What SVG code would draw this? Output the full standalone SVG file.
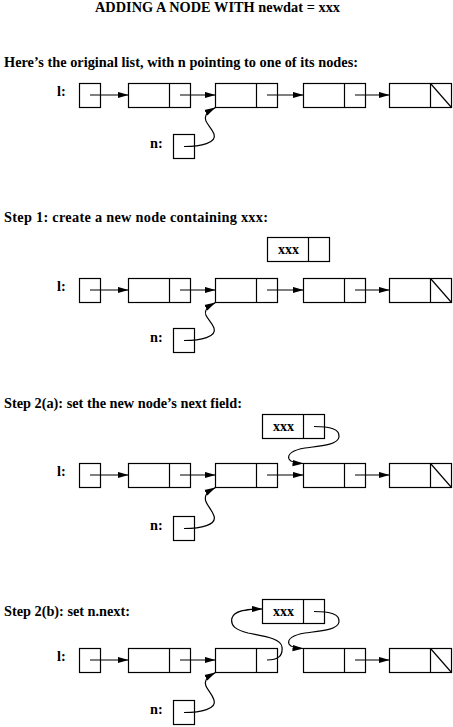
<svg xmlns="http://www.w3.org/2000/svg" width="453" height="727" viewBox="0 0 453 727">
<style>
.bx{fill:none;stroke:#000;stroke-width:1.2}
.ln{fill:none;stroke:#000;stroke-width:1.2}
.ar{fill:none;stroke:#000;stroke-width:1.2;marker-end:url(#ah)}
text{font-family:"Liberation Serif","Times New Roman",serif;font-weight:bold;fill:#000}
.h{font-size:14.3px}
.lb{font-size:14.3px}
.v{font-size:14px;text-anchor:middle}
</style>
<defs>
<marker id="ah" markerWidth="11" markerHeight="7" refX="11" refY="3.5" orient="auto" markerUnits="userSpaceOnUse">
<path d="M0,0.3 L11,3.5 L0,6.7 z" fill="#000"/>
</marker>
</defs>
<rect width="453" height="727" fill="#fff"/>

<text class="h" x="95" y="12" textLength="245" lengthAdjust="spacing">ADDING A NODE WITH newdat = xxx</text>

<!-- Panel 1 -->
<text class="h" x="4" y="67" textLength="354" lengthAdjust="spacing">Here’s the original list, with n pointing to one of its nodes:</text>
<g id="p1-l"><text class="lb" x="57" y="96">l:</text><rect class="bx" x="79.5" y="83.5" width="21" height="24"/></g>
<g id="p1-node1"><rect class="bx" x="128.5" y="83.5" width="62" height="24"/><line class="ln" x1="169.5" y1="83.5" x2="169.5" y2="107.5"/></g>
<g id="p1-node2"><rect class="bx" x="215.5" y="83.5" width="62" height="24"/><line class="ln" x1="256.5" y1="83.5" x2="256.5" y2="107.5"/></g>
<g id="p1-node3"><rect class="bx" x="303.5" y="83.5" width="62" height="24"/><line class="ln" x1="344.5" y1="83.5" x2="344.5" y2="107.5"/></g>
<g id="p1-node4"><rect class="bx" x="389.5" y="83.5" width="62" height="24"/><line class="ln" x1="430.5" y1="83.5" x2="430.5" y2="107.5"/><line class="ln" x1="430.5" y1="83.5" x2="451.5" y2="107.5"/></g>
<g id="p1-n"><text class="lb" x="150" y="148">n:</text><rect class="bx" x="173.5" y="134.5" width="21" height="24"/></g>

<!-- Panel 2 -->
<text class="h" x="4" y="222" textLength="264" lengthAdjust="spacing">Step 1: create a new node containing xxx:</text>
<g id="p2-new"><rect class="bx" x="267.5" y="237.5" width="62" height="24"/><line class="ln" x1="308.5" y1="237.5" x2="308.5" y2="261.5"/><text class="v" x="288.5" y="253.5">xxx</text></g>
<g id="p2-l"><text class="lb" x="57" y="291">l:</text><rect class="bx" x="79.5" y="278.5" width="21" height="24"/></g>
<g id="p2-node1"><rect class="bx" x="128.5" y="278.5" width="62" height="24"/><line class="ln" x1="169.5" y1="278.5" x2="169.5" y2="302.5"/></g>
<g id="p2-node2"><rect class="bx" x="215.5" y="278.5" width="62" height="24"/><line class="ln" x1="256.5" y1="278.5" x2="256.5" y2="302.5"/></g>
<g id="p2-node3"><rect class="bx" x="303.5" y="278.5" width="62" height="24"/><line class="ln" x1="344.5" y1="278.5" x2="344.5" y2="302.5"/></g>
<g id="p2-node4"><rect class="bx" x="389.5" y="278.5" width="62" height="24"/><line class="ln" x1="430.5" y1="278.5" x2="430.5" y2="302.5"/><line class="ln" x1="430.5" y1="278.5" x2="451.5" y2="302.5"/></g>
<g id="p2-n"><text class="lb" x="150" y="342">n:</text><rect class="bx" x="173.5" y="328.5" width="21" height="24"/></g>

<!-- Panel 3 -->
<text class="h" x="4" y="408" textLength="238" lengthAdjust="spacing">Step 2(a): set the new node’s next field:</text>
<g id="p3-new"><rect class="bx" x="262.5" y="414.5" width="62" height="24"/><line class="ln" x1="303.5" y1="414.5" x2="303.5" y2="438.5"/><text class="v" x="283.5" y="430.5">xxx</text></g>
<g id="p3-l"><text class="lb" x="57" y="476">l:</text><rect class="bx" x="79.5" y="463.5" width="21" height="24"/></g>
<g id="p3-node1"><rect class="bx" x="128.5" y="463.5" width="62" height="24"/><line class="ln" x1="169.5" y1="463.5" x2="169.5" y2="487.5"/></g>
<g id="p3-node2"><rect class="bx" x="215.5" y="463.5" width="62" height="24"/><line class="ln" x1="256.5" y1="463.5" x2="256.5" y2="487.5"/></g>
<g id="p3-node3"><rect class="bx" x="303.5" y="463.5" width="62" height="24"/><line class="ln" x1="344.5" y1="463.5" x2="344.5" y2="487.5"/></g>
<g id="p3-node4"><rect class="bx" x="389.5" y="463.5" width="62" height="24"/><line class="ln" x1="430.5" y1="463.5" x2="430.5" y2="487.5"/><line class="ln" x1="430.5" y1="463.5" x2="451.5" y2="487.5"/></g>
<g id="p3-n"><text class="lb" x="150" y="530">n:</text><rect class="bx" x="173.5" y="516.5" width="21" height="24"/></g>

<!-- Panel 4 -->
<text class="h" x="4" y="616" textLength="126" lengthAdjust="spacing">Step 2(b): set n.next:</text>
<g id="p4-new"><rect class="bx" x="262.5" y="599.5" width="62" height="24"/><line class="ln" x1="303.5" y1="599.5" x2="303.5" y2="623.5"/><text class="v" x="283.5" y="615.5">xxx</text></g>
<g id="p4-l"><text class="lb" x="57" y="661">l:</text><rect class="bx" x="79.5" y="648.5" width="21" height="24"/></g>
<g id="p4-node1"><rect class="bx" x="128.5" y="648.5" width="62" height="24"/><line class="ln" x1="169.5" y1="648.5" x2="169.5" y2="672.5"/></g>
<g id="p4-node2"><rect class="bx" x="215.5" y="648.5" width="62" height="24"/><line class="ln" x1="256.5" y1="648.5" x2="256.5" y2="672.5"/></g>
<g id="p4-node3"><rect class="bx" x="303.5" y="648.5" width="62" height="24"/><line class="ln" x1="344.5" y1="648.5" x2="344.5" y2="672.5"/></g>
<g id="p4-node4"><rect class="bx" x="389.5" y="648.5" width="62" height="24"/><line class="ln" x1="430.5" y1="648.5" x2="430.5" y2="672.5"/><line class="ln" x1="430.5" y1="648.5" x2="451.5" y2="672.5"/></g>
<g id="p4-n"><text class="lb" x="150" y="714">n:</text><rect class="bx" x="173.5" y="700.5" width="21" height="24"/></g>

<g id="connectors">
<!-- panel 1 -->
<path class="ar" d="M90,95 H128.5"/>
<path class="ar" d="M180,95 H215.5"/>
<path class="ar" d="M267,95 H303.5"/>
<path class="ar" d="M355,95 H389.5"/>
<path class="ar" d="M184,146.5 C201,146.5 217,143 214,134 C211,126 203,122 206,115 Q209,111 215.5,107.5"/>
<!-- panel 2 -->
<path class="ar" d="M90,290 H128.5"/>
<path class="ar" d="M180,290 H215.5"/>
<path class="ar" d="M267,290 H303.5"/>
<path class="ar" d="M355,290 H389.5"/>
<path class="ar" d="M184,340.5 C201,340.5 217,337 214,328 C211,320 203,316 206,310 Q209,306 215.5,302.5"/>
<!-- panel 3 -->
<path class="ar" d="M90,475 H128.5"/>
<path class="ar" d="M180,475 H215.5"/>
<path class="ar" d="M267,475 H303.5"/>
<path class="ar" d="M355,475 H389.5"/>
<path class="ar" d="M184,528.5 C201,528.5 217,525 214,516 C211,507 203,503 206,495 Q209,491 215.5,487.5"/>
<path class="ar" d="M314,426.5 C330,426.5 340,429 339,437 C338,445 320,446 305,448 C293,450 287,454 289,459 Q291,463 303.5,463.5"/>
<!-- panel 4 -->
<path class="ar" d="M90,660 H128.5"/>
<path class="ar" d="M180,660 H215.5"/>
<path class="ar" d="M355,660 H389.5"/>
<path class="ar" d="M184,712.5 C201,712.5 217,709 214,700 C211,691 203,687 206,680 Q209,676 215.5,672.5"/>
<path class="ar" d="M267,660 C278,660 283,656 282,647 C281,638 262,636 248,633 C236,630 230,626 232,618 C234,611 245,609 262.5,609"/>
<path class="ar" d="M314,611.5 C330,611.5 340,614 339,622 C338,630 320,631 305,633 C293,635 287,639 289,644 Q291,648 303.5,648.5"/>
</g>
</svg>
